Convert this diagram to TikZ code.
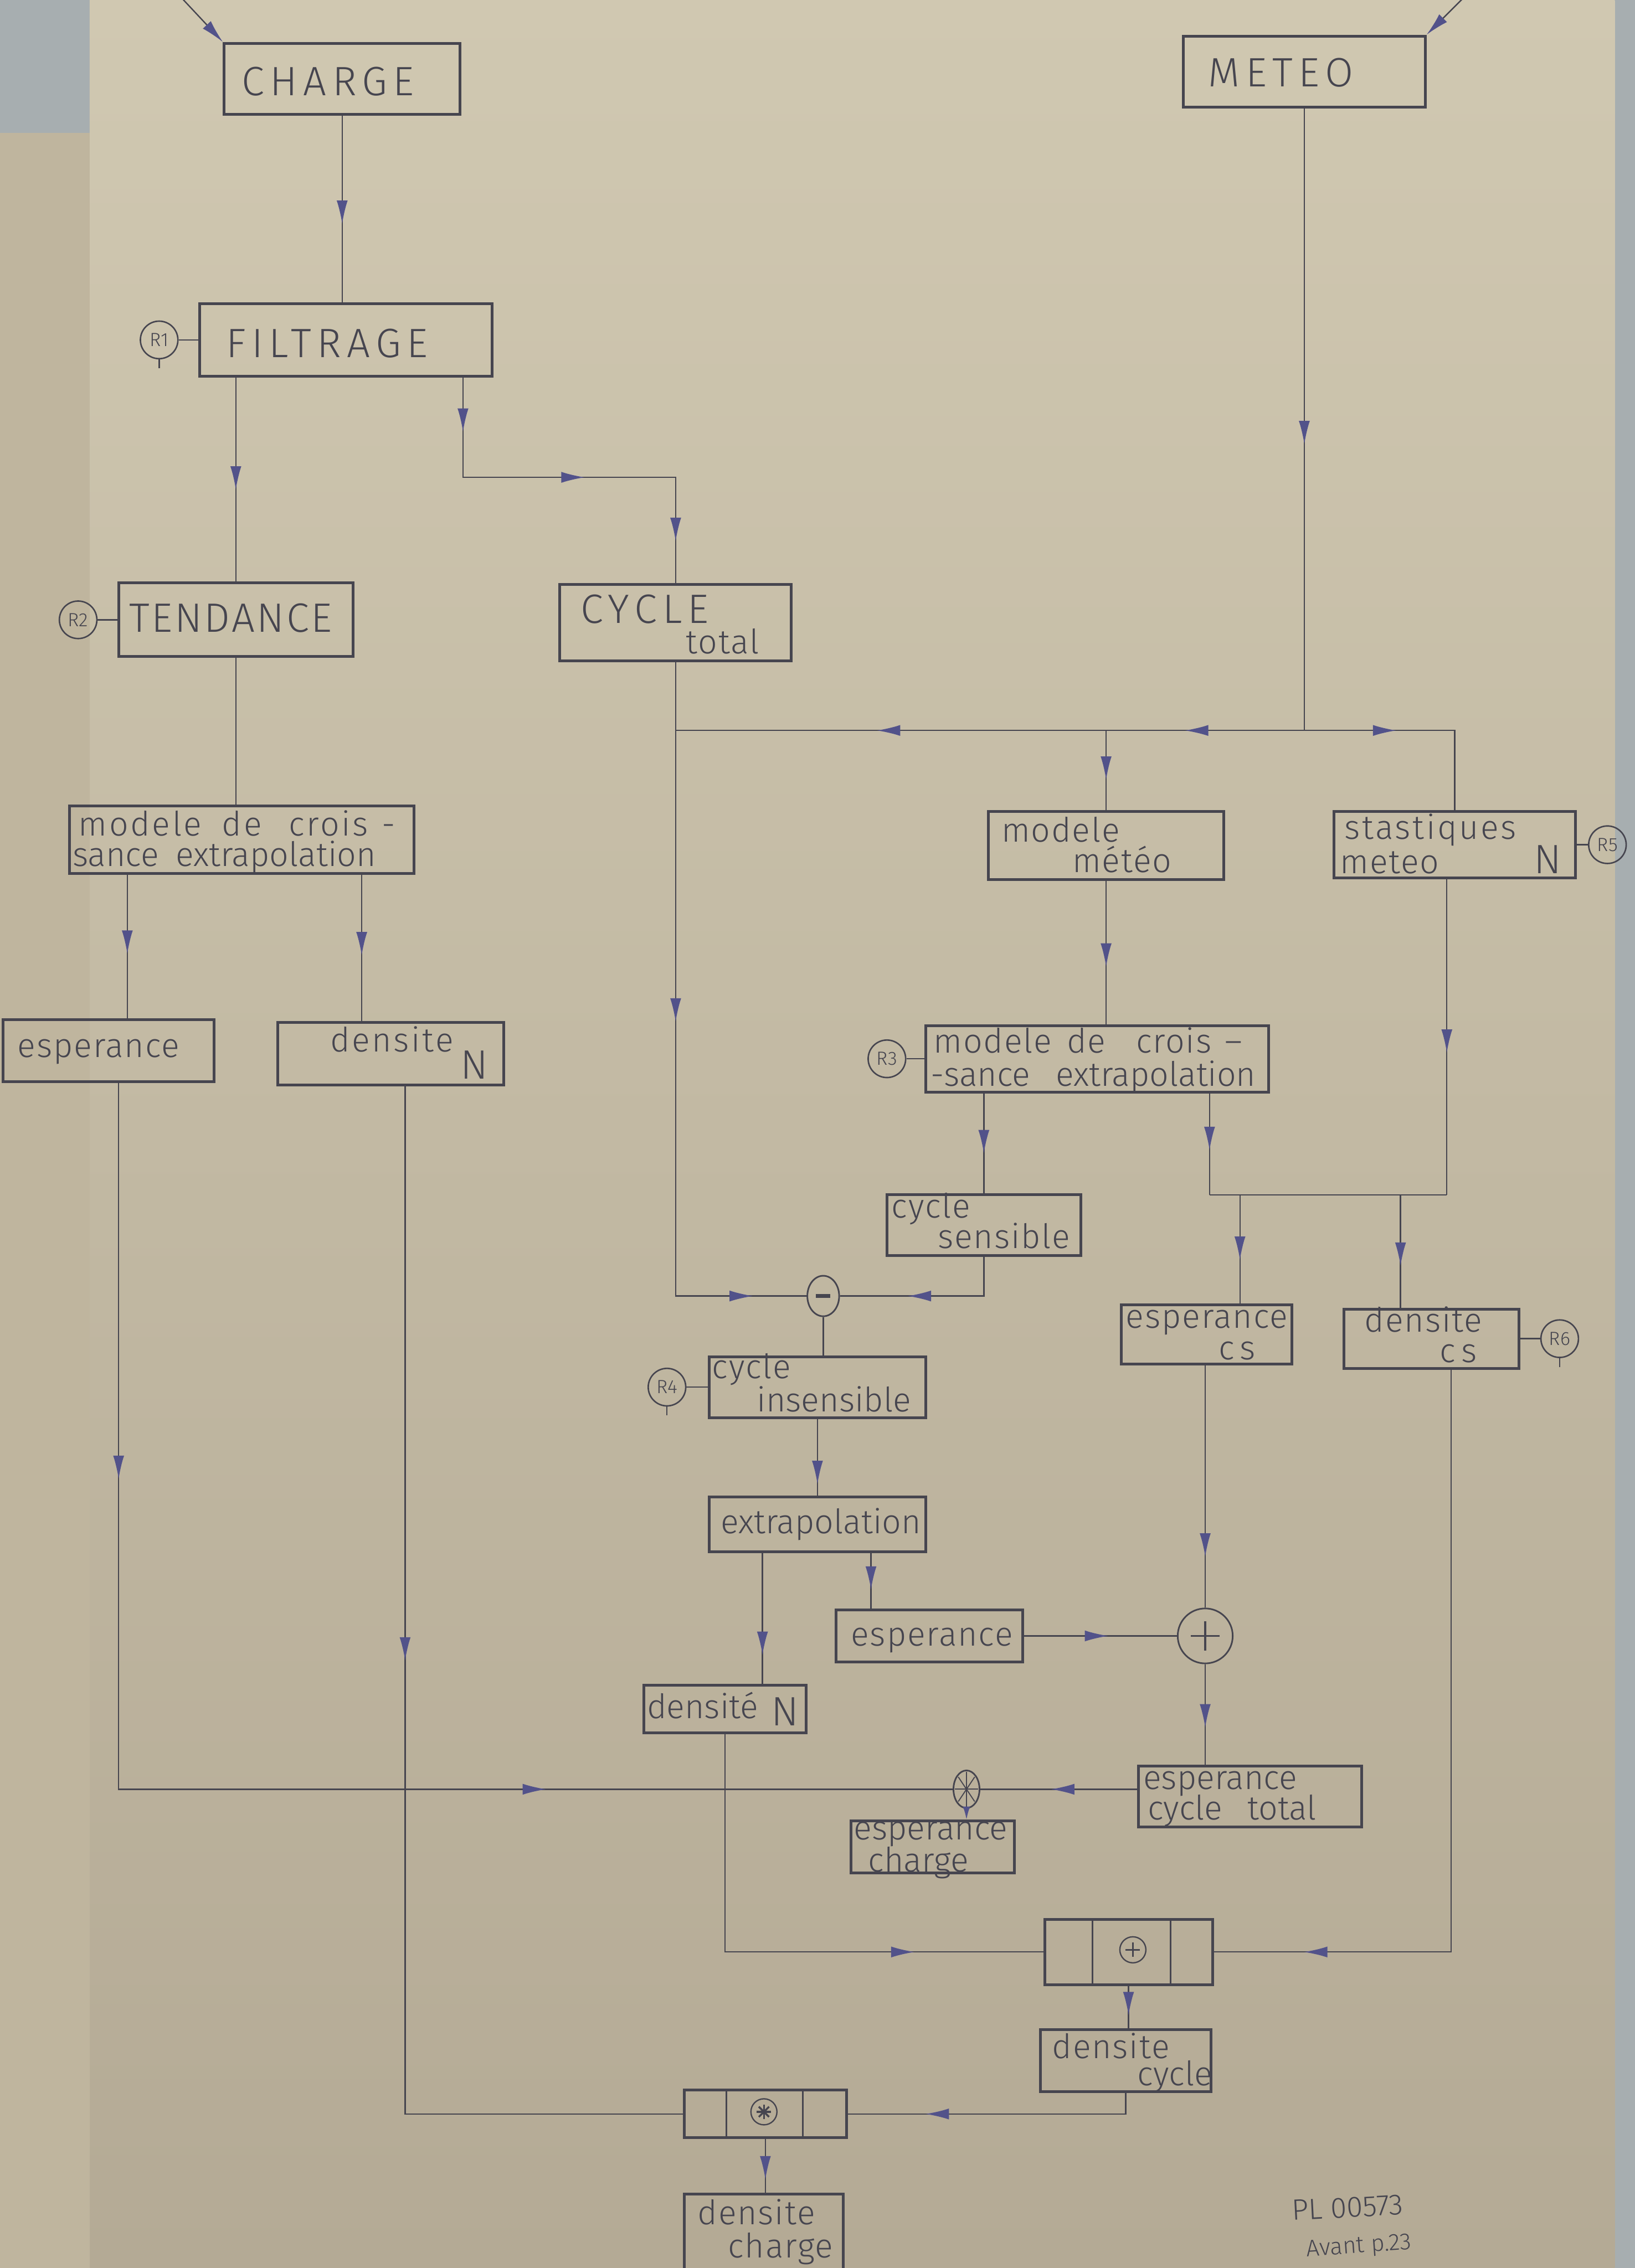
\documentclass[tikz,border=0pt]{standalone}
\usepackage{fontspec}
\setmainfont{Fira Sans Light}
\usetikzlibrary{arrows.meta,decorations.markings,shapes.geometric}
\definecolor{wallc}{HTML}{A7AEB0}
\definecolor{papertop}{HTML}{D0C8B1}
\definecolor{paperbot}{HTML}{B4AA95}
\definecolor{paperleft}{HTML}{BFB59E}
\definecolor{ink}{HTML}{46454F}
\definecolor{arrowc}{HTML}{52528A}
\newcommand\fbig{\fontsize{28}{30}\selectfont\addfontfeatures{LetterSpace=14}}
\newcommand\fbigt{\fontsize{28}{30}\selectfont\addfontfeatures{LetterSpace=5}}
\newcommand\fmid{\fontsize{23}{24}\selectfont\addfontfeatures{LetterSpace=3}}
\newcommand\fmidz{\fontsize{23}{24}\selectfont}
\newcommand\fmidw{\fontsize{23}{24}\selectfont\addfontfeatures{LetterSpace=6}}
\newcommand\fsml{\fontsize{13}{14}\selectfont}
\newcommand\fhand{\fontsize{20}{22}\selectfont}
\newcommand\fhandb{\fontsize{16}{18}\selectfont}
\tikzset{
 box/.style 2 args={draw=ink, line width=1.9pt, rectangle, inner sep=0pt, minimum width=#1*0.0347cm, minimum height=#2*0.0347cm},
 wire/.style={draw=ink, line width=0.9pt},
 lbl/.style={text=ink, anchor=base west, inner sep=0pt, font=\fmid},
 lblz/.style={lbl, font=\fmidz},
 lblw/.style={lbl, font=\fmidw},
 capl/.style={lbl, font=\fbig},
 rcirc/.style={draw=ink, circle, line width=1pt, minimum size=0.9cm, inner sep=0pt, font=\fsml, text=ink},
 opc/.style 2 args={draw=ink, ellipse, line width=1.1pt, inner sep=0pt, minimum width=#1*0.0347cm, minimum height=#2*0.0347cm},
 ma/.style={postaction={decorate,decoration={markings,mark=at position #1 with {\arrow{Latex[length=16pt,width=7.5pt,color=arrowc]}}}}},
 tipend/.style={-{Latex[length=16pt,width=7.5pt,color=arrowc]}},
 tipsmall/.style={-{Latex[length=9pt,width=5pt,color=arrowc]}},
}
\begin{document}
\begin{tikzpicture}[x=0.0347cm,y=-0.0347cm]
\useasboundingbox (0,0) rectangle (1130,1568);
% paper and background
\fill[wallc] (0,0) rectangle (1130,1568);
\shade[top color=papertop, bottom color=paperbot] (62,0) rectangle (1116,1568);
\fill[paperleft] (0,92) rectangle (62,1568);

% ---------- boxes ----------
\node[box={163}{49}] (charge) at (236.5,54.5) {};
\node[capl] (chargeT) at (167,66) {CHARGE};
\node[box={167}{49}] (meteo) at (901.5,49.5) {};
\node[capl] (meteoT) at (835,60) {METEO};
\node[box={202}{50}] (filtrage) at (239,235) {};
\node[capl] (filtrageT) at (156,247) {FILTRAGE};
\node[rcirc] (r1) at (110,235) {R1};
\node[box={162}{51}] (tendance) at (163,428.5) {};
\node[capl, font=\fbigt] (tendanceT) at (89,437) {TENDANCE};
\node[rcirc] (r2) at (54,428.5) {R2};
\node[box={160}{53}] (cycle) at (467,430.5) {};
\node[capl] (cycleT) at (401,431) {CYCLE};
\node[lbl] (cycleT2) at (474,452) {total};

\node[box={238}{47}] (mdcL) at (167,580.5) {};
\node[lblw] (mdcLT1) at (54,578) {modele\hspace{0.6em}de\hspace{0.8em}crois\hspace{0.4em}-};
\node[lblz] (mdcLT2) at (50,599) {sance\hspace{0.5em}extrapolation};
\node[box={146}{43}] (espL) at (75,726.5) {};
\node[lbl] (espLT) at (12,731) {esperance};
\node[box={156}{43}] (densN) at (270,728.5) {};
\node[lblw] (densNT) at (228,727) {densite};
\node[capl] (densNT2) at (318,746) {N};

\node[box={163}{47}] (mm) at (764.5,584.5) {};
\node[lbl] (mmT1) at (692,582) {modele};
\node[lbl] (mmT2) at (741,603) {météo};
\node[box={167}{46}] (sm) at (1005.5,584) {};
\node[lblw] (smT1) at (929,580) {stastiques};
\node[lbl] (smT2) at (926,604) {meteo};
\node[capl] (smT3) at (1060,604) {N};
\node[rcirc] (r5) at (1111,584) {R5};

\node[box={237}{46}] (r3box) at (758.5,732) {};
\node[lbl] (r3T1) at (645,728) {modele\hspace{0.45em}de\hspace{0.9em}crois\hspace{0.4em}–};
\node[lblz] (r3T2) at (643,751) {-sance\hspace{0.75em}extrapolation};
\node[rcirc] (r3) at (613,732) {R3};

\node[box={134}{42}] (cs) at (680,847) {};
\node[lbl] (csT1) at (616,842) {cycle};
\node[lbl] (csT2) at (648,863) {sensible};
\node[box={118}{41}] (ecs) at (834,922.5) {};
\node[lbl] (ecsT1) at (778,918) {esperance};
\node[lbl] (ecsT2) at (842,940) {c\,s};
\node[box={121}{41}] (dcs) at (989.5,925.5) {};
\node[lbl] (dcsT1) at (943,921) {densite};
\node[lbl] (dcsT2) at (995,942) {c\,s};
\node[rcirc] (r6) at (1078,925.5) {R6};

\node[opc={22}{28}] (minus) at (569,896) {};
\node[box={150}{42}] (ci) at (565,959) {};
\node[lbl] (ciT1) at (492,953) {cycle};
\node[lblz] (ciT2) at (523,976) {insensible};
\node[rcirc] (r4) at (461,959) {R4};
\node[box={150}{38}] (extra) at (565,1054) {};
\node[lblz] (extraT) at (498,1060) {extrapolation};
\node[box={129}{36}] (espM) at (642.5,1131) {};
\node[lbl] (espMT) at (588,1138) {esperance};
\node[opc={38}{38}] (plus) at (833,1131) {};
\node[box={112}{33}] (densM) at (501,1181.5) {};
\node[lblz] (densMT) at (447,1188) {densité};
\node[capl] (densMT2) at (533,1193) {N};
\node[box={154}{42}] (ect) at (864,1242) {};
\node[lblz] (ectT1) at (790,1237) {esperance};
\node[lblz] (ectT2) at (793,1258) {cycle\hspace{0.75em}total};
\node[opc={18}{26}] (star) at (668,1237) {};
\node[box={113}{36}] (espC) at (644.5,1277) {};
\node[lblz] (espCT1) at (590,1272) {esperance};
\node[lblz] (espCT2) at (600,1294) {charge};

\node[box={116}{45}] (plusbox) at (780,1349.5) {};
\node[draw=ink, circle, line width=0.9pt, minimum size=18*0.0347cm, inner sep=0pt] (pbc) at (783,1348) {};
\node[box={118}{43}] (dcyc) at (778,1424.5) {};
\node[lbl] (dcycT1) at (727,1423) {densite};
\node[lblz] (dcycT2) at (786,1442) {cycle};
\node[box={112}{33}] (starbox) at (529,1461.5) {};
\node[draw=ink, circle, line width=0.9pt, minimum size=18*0.0347cm, inner sep=0pt] (sbc) at (528,1460) {};
\node[box={110}{70}] (dcharge) at (528,1552) {};
\node[lbl] (dchargeT1) at (482,1538) {densite};
\node[lbl] (dchargeT2) at (503,1561) {charge};

\node[text=ink, anchor=base west, inner sep=0pt, font=\fhand, rotate=3] (pl) at (893,1535) {PL 00573};
\node[text=ink, anchor=base west, inner sep=0pt, font=\fhandb, rotate=4] (avant) at (903,1560) {Avant p.23};

% ---------- symbols inside operators ----------
\draw[ink, line width=2.4pt] (minus.center) ++(-5,0) -- ++(10,0);
\draw[ink, line width=1.5pt] (plus.center) ++(-10,0) -- ++(20,0);
\draw[ink, line width=1.5pt] (plus.center) ++(0,-10) -- ++(0,20);
\foreach \a in {0,45,90,135} \draw[ink, line width=0.7pt] (star.center) ++(\a:8 and 12) -- ++(\a+180:16 and 24);
\draw[ink, line width=0.9pt] (pbc.center) ++(-5,0) -- ++(10,0);
\draw[ink, line width=0.9pt] (pbc.center) ++(0,-5) -- ++(0,10);
\foreach \a in {0,45,90,135} \draw[ink, line width=1.3pt] (sbc.center) ++(\a:5) -- ++(\a+180:10);
% dividers of the combination boxes
\draw[ink, line width=1.1pt] (755,1327) -- (755,1372);
\draw[ink, line width=1.1pt] (809,1327) -- (809,1372);
\draw[ink, line width=1.1pt] (502,1445) -- (502,1478);
\draw[ink, line width=1.1pt] (555,1445) -- (555,1478);

% ---------- R labels ----------
\draw[wire] (r1) -- (filtrage);
\draw[wire] (r1.south) -- ++(0,6);
\draw[wire] (r2) -- (tendance);
\draw[wire] (r3) -- (r3box);
\draw[wire] (r4) -- (ci);
\draw[wire] (r4.south) -- ++(0,6);
\draw[wire] (r5) -- (sm);
\draw[wire] (r6) -- (dcs);
\draw[wire] (r6.south) -- ++(0,6);

% ---------- connectors ----------
\coordinate (inC) at (125,-2);
\coordinate (inM) at (1012,-2);
\draw[wire, tipend] (inC) -- (charge.north west);
\draw[wire, tipend] (inM) -- (meteo.north east);
\draw[wire, ma=0.58] (charge.south) -- (charge.south |- filtrage.north);
\draw[wire, ma=0.55] (tendance.north |- filtrage.south) -- (tendance.north);
\coordinate (fcA) at (320,330);
\draw[wire, ma=0.13, ma=0.53, ma=0.9] (fcA |- filtrage.south) -- (fcA) -- (fcA -| cycle.north) -- (cycle.north);
\draw[wire] (tendance.south) -- (tendance.south |- mdcL.north);
\draw[wire, ma=0.55] (88,0 |- mdcL.south) -- (88,0 |- espL.north);
\draw[wire, ma=0.55] (250,0 |- mdcL.south) -- (250,0 |- densN.north);

\coordinate (J) at (meteo.south |- 0,505);
\draw[wire, ma=0.54] (meteo.south) -- (J);
\draw[wire, ma=0.68, ma=0.19] (J) -- (J -| cycle.south);
\draw[wire, ma=0.4] (J) -- (J -| sm.north) -- (sm.north);
\draw[wire, ma=0.62] (J -| mm.north) -- (mm.north);
\coordinate (K) at (cycle.south |- minus);
\draw[wire, ma=0.47, ma=0.93] (cycle.south) -- (K) -- (minus.west);
\draw[wire, ma=0.6] (mm.south) -- (mm.south |- r3box.north);
\draw[wire, ma=0.6] (cs.north |- r3box.south) -- (cs.north);
\coordinate (L1) at (836,826);
\coordinate (L2) at (1000,826);
\coordinate (L3) at (857,826);
\coordinate (L4) at (968,826);
\draw[wire, ma=0.56] (L1 |- r3box.south) -- (L1);
\draw[wire, ma=0.55] (L2 |- sm.south) -- (L2);
\draw[wire] (L1) -- (L2);
\draw[wire, ma=0.6] (L3) -- (L3 |- ecs.north);
\draw[wire, ma=0.63] (L4) -- (L4 |- dcs.north);
\draw[wire, ma=0.63] (cs.south) -- (cs.south |- minus) -- (minus.east);
\draw[wire] (minus.south) -- (minus.south |- ci.north);
\draw[wire, ma=0.85] (ci.south) -- (extra.north);
\draw[wire, ma=0.78] (527,0 |- extra.south) -- (527,0 |- densM.north);
\draw[wire, ma=0.66] (602,0 |- extra.south) -- (602,0 |- espM.north);
\draw[wire, ma=0.55] (espM.east) -- (plus.west);
\draw[wire, ma=0.79] (ecs.south -| plus.north) -- (plus.north);
\draw[wire, ma=0.63] (plus.south) -- (plus.south |- ect.north);
\draw[wire, ma=0.55] (ect.west |- star) -- (star.east);
\draw[wire, ma=0.257, ma=0.736] (82,0 |- espL.south) -- (82,0 |- star) -- (star.west);
\draw[wire, tipsmall] (star.south) -- (star.south |- espC.north);
\draw[wire, ma=0.44] (280,0 |- densN.south) -- (280,0 |- starbox.west) -- (starbox.west);
\draw[wire, ma=0.76] (densM.south) -- (densM.south |- plusbox.west) -- (plusbox.west);
\draw[wire, ma=0.89] (1003,0 |- dcs.south) -- (1003,0 |- plusbox.east) -- (plusbox.east);
\draw[wire, ma=0.7] (plusbox.south) -- (plusbox.south |- dcyc.north);
\draw[wire, ma=0.74] (dcyc.south) -- (dcyc.south |- starbox.east) -- (starbox.east);
\draw[wire, ma=0.75] (starbox.south) -- (starbox.south |- dcharge.north);
\end{tikzpicture}
\end{document}
